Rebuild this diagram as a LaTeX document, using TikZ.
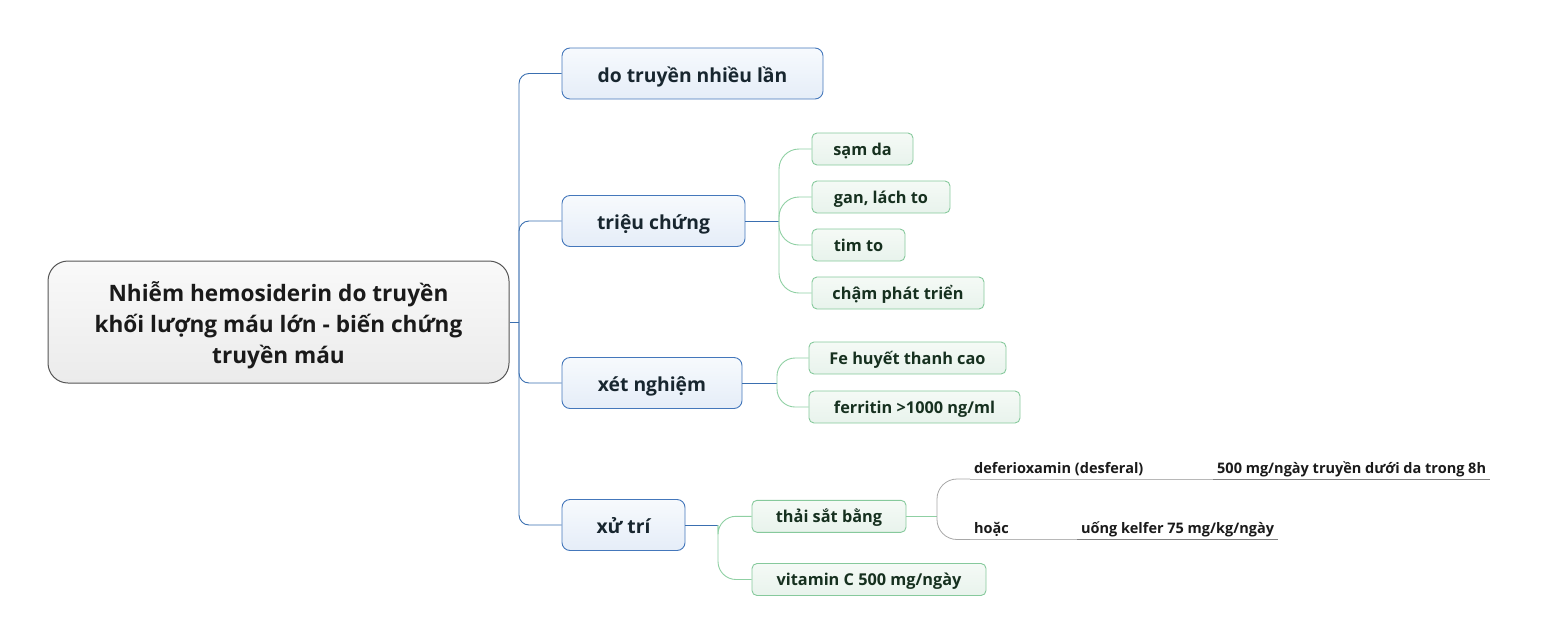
\documentclass[tikz,border=0pt]{standalone}
\usepackage{fontspec}
\setmainfont{Open Sans}
\definecolor{rootdraw}{HTML}{555555}
\definecolor{roottop}{HTML}{F9F9F9}
\definecolor{rootbot}{HTML}{EBEBEB}
\definecolor{bluedraw}{HTML}{4477BB}
\definecolor{bluetop}{HTML}{F7FAFD}
\definecolor{bluebot}{HTML}{E5EDF8}
\definecolor{blueline}{HTML}{3A6FB0}
\definecolor{greendraw}{HTML}{86C99C}
\definecolor{greentop}{HTML}{F5FAF6}
\definecolor{greenbot}{HTML}{E8F3EC}
\definecolor{greenline}{HTML}{8FD0A3}
\definecolor{graycurve}{HTML}{A8A8A8}
\definecolor{graylight}{HTML}{B8B8B8}
\definecolor{graydark}{HTML}{808080}
\definecolor{txtblue}{HTML}{18262F}
\definecolor{txtgreen}{HTML}{16301F}
\definecolor{txt}{HTML}{1A1A1A}
\begin{document}
\begin{tikzpicture}[x=1pt,y=-1pt,
  rootbox/.style={draw=rootdraw, line width=1pt, top color=roottop, bottom color=rootbot,
    rounded corners=20pt, minimum width=461pt, minimum height=122pt, align=center,
    text=txt, font=\bfseries\fontsize{22.6}{31.2}\selectfont},
  branchbox/.style={draw=bluedraw, line width=0.9pt, top color=bluetop, bottom color=bluebot,
    rounded corners=8pt, minimum height=51pt, text height=17.5pt, text depth=0pt,
    text=txtblue, font=\bfseries\fontsize{19.3}{22}\selectfont},
  leafbox/.style={draw=greendraw, line width=0.9pt, top color=greentop, bottom color=greenbot,
    rounded corners=5pt, minimum height=32pt, text height=12.5pt, text depth=0pt,
    text=txtgreen, font=\bfseries\fontsize{16.3}{19}\selectfont},
  subtext/.style={anchor=south west, inner ysep=3pt, inner xsep=4pt, text depth=2.6pt,
    text=txt, font=\bfseries\fontsize{14.5}{17}\selectfont},
  bconn/.style={draw=blueline, line width=0.9pt},
  gconn/.style={draw=greenline, line width=0.9pt},
  sconn/.style={draw=graycurve, line width=0.8pt},
  ulight/.style={draw=graylight, line width=0.8pt},
  udark/.style={draw=graydark, line width=0.8pt}
]
\useasboundingbox (0,0) rectangle (1544,643);

% root
\node[rootbox] (r) at (278.5,322) {\rule{0pt}{27pt}Nhiễm hemosiderin do truyền\\khối lượng máu lớn - biến chứng\\truyền máu};

% branches
\node[branchbox, minimum width=261pt] (b1) at (692.5,73.5) {do truyền nhiều lần};
\node[branchbox, minimum width=183pt] (b2) at (653.5,221) {triệu chứng};
\node[branchbox, minimum width=180pt] (b3) at (652,383) {xét nghiệm};
\node[branchbox, minimum width=123pt] (b4) at (623.5,525) {xử trí};

% leaves of triệu chứng
\node[leafbox, minimum width=101pt] (l1) at (862.5,149) {sạm da};
\node[leafbox, minimum width=138pt] (l2) at (881,197) {gan, lách to};
\node[leafbox, minimum width=93pt] (l3) at (858.5,245) {tim to};
\node[leafbox, minimum width=172pt] (l4) at (898,293) {chậm phát triển};

% leaves of xét nghiệm
\node[leafbox, minimum width=197pt] (x1) at (907.5,358) {Fe huyết thanh cao};
\node[leafbox, minimum width=211pt] (x2) at (914.5,407) {ferritin >1000 ng/ml};

% leaves of xử trí
\node[leafbox, minimum width=154pt] (t1) at (829,516.3) {thải sắt bằng};
\node[leafbox, minimum width=234pt] (t2) at (869,579.5) {vitamin C 500 mg/ngày};

% sub-items
\node[subtext] (d1) at (970,479) {deferioxamin (desferal)};
\node[subtext] (d2) at (1213,479) {500 mg/ngày truyền dưới da trong 8h};
\node[subtext] (h1) at (970,539.5) {hoặc};
\node[subtext] (h2) at (1077,539.5) {uống kelfer 75 mg/kg/ngày};

% junctions
\coordinate (j) at (519,322);
\coordinate (jt) at (779,221);
\coordinate (jx) at (777,383);
\coordinate (js) at (718,525);
\coordinate (jd) at (937,516.3);

% trunk connectors
\draw[bconn] (r.east) -- (j);
\draw[bconn, rounded corners=10pt] (b1.west) -| (j) |- (b4.west);
\draw[bconn, rounded corners=10pt] (j) |- (b2.west);
\draw[bconn, rounded corners=10pt] (j) |- (b3.west);

% triệu chứng
\draw[bconn] (b2.east) -- (jt);
\draw[gconn, rounded corners=20pt] (jt) |- (l1.west);
\draw[gconn, rounded corners=20pt] (jt) |- (l2.west);
\draw[gconn, rounded corners=20pt] (jt) |- (l3.west);
\draw[gconn, rounded corners=20pt] (jt) |- (l4.west);

% xét nghiệm
\draw[bconn] (b3.east) -- (jx);
\draw[gconn, rounded corners=18pt] (jx) |- (x1.west);
\draw[gconn, rounded corners=18pt] (jx) |- (x2.west);

% xử trí
\draw[bconn] (b4.east) -- (js);
\draw[gconn, rounded corners=18pt] (js) |- (t1.west);
\draw[gconn, rounded corners=18pt] (js) |- (t2.west);

% thải sắt bằng
\draw[gconn] (t1.east) -- (jd);
\draw[sconn, rounded corners=20pt] (jd) |- (d1.south west);
\draw[ulight] (d1.south west) -- (d2.south west);
\draw[udark] (d2.south west) -- (d2.south east);
\draw[sconn, rounded corners=20pt] (jd) |- (h1.south west);
\draw[ulight] (h1.south west) -- (h2.south west);
\draw[udark] (h2.south west) -- (h2.south east);
\end{tikzpicture}
\end{document}
